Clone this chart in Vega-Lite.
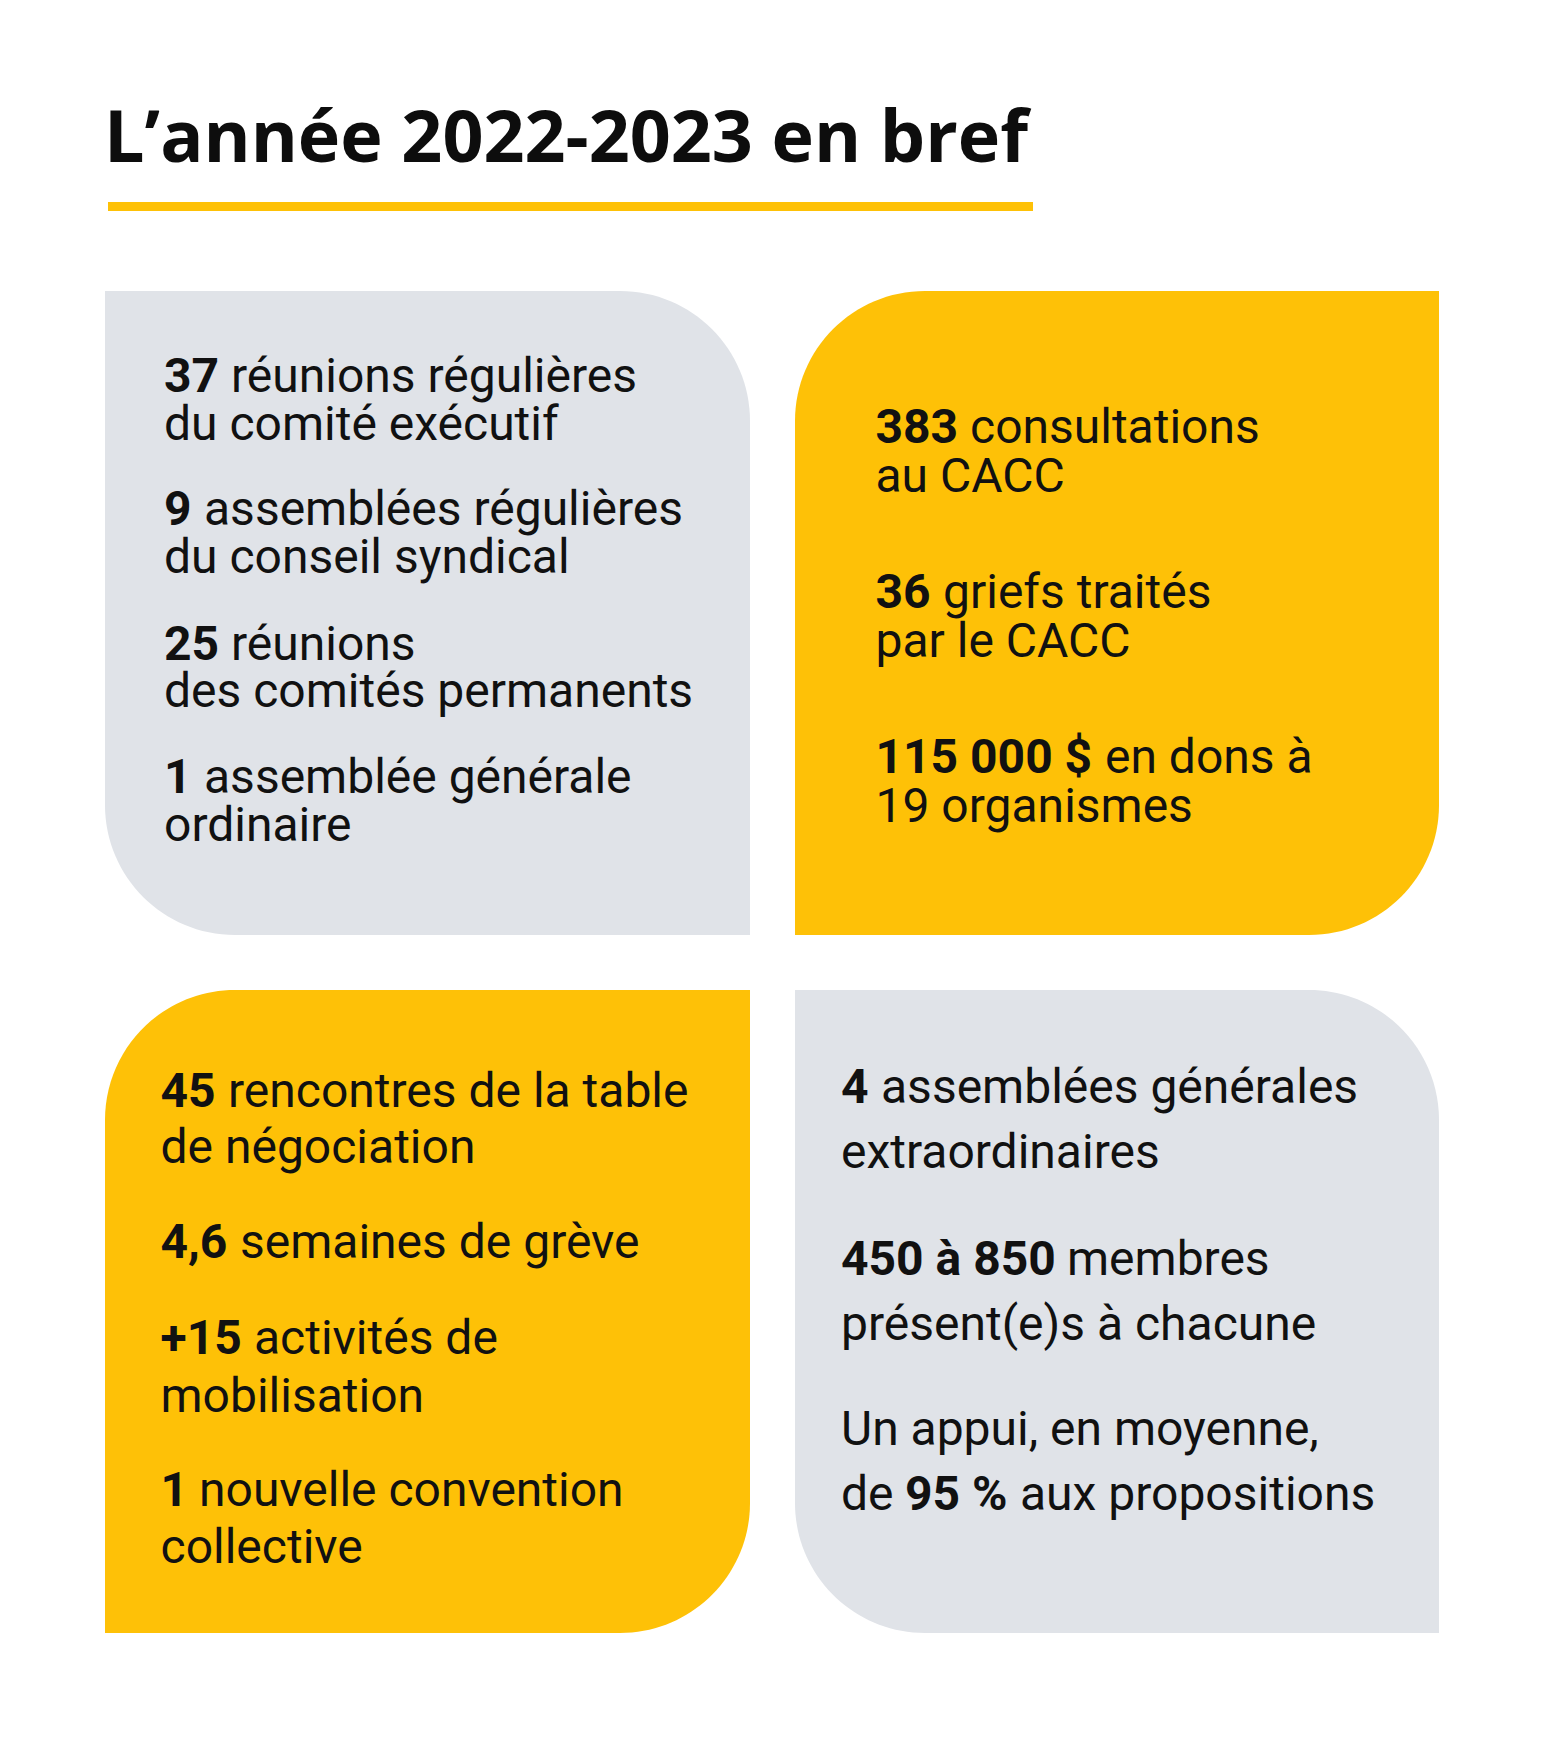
{
  "$schema": "https://vega.github.io/schema/vega-lite/v6.json",
  "width": 1545,
  "height": 1738,
  "padding": 0,
  "autosize": {"type": "none"},
  "background": "#ffffff",
  "config": {"view": {"stroke": null}},
  "datasets": {
    "blocs": [
      {"bloc": "haut-gauche", "teinte": "gris", "forme": "A", "x1": 105, "x2": 750, "y1": 291, "y2": 935},
      {"bloc": "haut-droite", "teinte": "jaune", "forme": "B", "x1": 795, "x2": 1439, "y1": 291, "y2": 935},
      {"bloc": "bas-gauche", "teinte": "jaune", "forme": "B", "x1": 105, "x2": 750, "y1": 990, "y2": 1633},
      {"bloc": "bas-droite", "teinte": "gris", "forme": "A", "x1": 795, "x2": 1439, "y1": 990, "y2": 1633},
      {"bloc": "souligne", "teinte": "jaune", "forme": "barre", "x1": 108, "x2": 1033, "y1": 202, "y2": 211}
    ],
    "titre": [
      {"texte": "L’année 2022-2023 en bref", "x": 104, "y": 162}
    ],
    "lignes": [
      {"graisse": "gras", "texte": "37", "x": 164, "y": 392},
      {"graisse": "normal", "texte": "réunions régulières", "x": 231, "y": 392},
      {"graisse": "normal", "texte": "du comité exécutif", "x": 164, "y": 440},
      {"graisse": "gras", "texte": "9", "x": 164, "y": 525},
      {"graisse": "normal", "texte": "assemblées régulières", "x": 204, "y": 525},
      {"graisse": "normal", "texte": "du conseil syndical", "x": 164, "y": 573},
      {"graisse": "gras", "texte": "25", "x": 164, "y": 660},
      {"graisse": "normal", "texte": "réunions", "x": 231, "y": 660},
      {"graisse": "normal", "texte": "des comités permanents", "x": 164, "y": 707},
      {"graisse": "gras", "texte": "1", "x": 164, "y": 793},
      {"graisse": "normal", "texte": "assemblée générale", "x": 204, "y": 793},
      {"graisse": "normal", "texte": "ordinaire", "x": 164, "y": 841},

      {"graisse": "gras", "texte": "383", "x": 875.5, "y": 443},
      {"graisse": "normal", "texte": "consultations", "x": 970, "y": 443},
      {"graisse": "normal", "texte": "au CACC", "x": 875.5, "y": 492},
      {"graisse": "gras", "texte": "36", "x": 875.5, "y": 608},
      {"graisse": "normal", "texte": "griefs traités", "x": 943, "y": 608},
      {"graisse": "normal", "texte": "par le CACC", "x": 875.5, "y": 657},
      {"graisse": "gras", "texte": "115 000 $", "x": 875.5, "y": 773},
      {"graisse": "normal", "texte": "en dons à", "x": 1105, "y": 773},
      {"graisse": "normal", "texte": "19 organismes", "x": 875.5, "y": 822},

      {"graisse": "gras", "texte": "45", "x": 160.5, "y": 1107},
      {"graisse": "normal", "texte": "rencontres de la table", "x": 228, "y": 1107},
      {"graisse": "normal", "texte": "de négociation", "x": 160.5, "y": 1163},
      {"graisse": "gras", "texte": "4,6", "x": 160.5, "y": 1258},
      {"graisse": "normal", "texte": "semaines de grève", "x": 240, "y": 1258},
      {"graisse": "gras", "texte": "+15", "x": 160.5, "y": 1354},
      {"graisse": "normal", "texte": "activités de", "x": 254, "y": 1354},
      {"graisse": "normal", "texte": "mobilisation", "x": 160.5, "y": 1412},
      {"graisse": "gras", "texte": "1", "x": 160.5, "y": 1506},
      {"graisse": "normal", "texte": "nouvelle convention", "x": 199, "y": 1506},
      {"graisse": "normal", "texte": "collective", "x": 160.5, "y": 1563},

      {"graisse": "gras", "texte": "4", "x": 841, "y": 1103},
      {"graisse": "normal", "texte": "assemblées générales", "x": 881, "y": 1103},
      {"graisse": "normal", "texte": "extraordinaires", "x": 841, "y": 1168},
      {"graisse": "gras", "texte": "450 à 850", "x": 841, "y": 1275},
      {"graisse": "normal", "texte": "membres", "x": 1067, "y": 1275},
      {"graisse": "normal", "texte": "présent(e)s à chacune", "x": 841, "y": 1340},
      {"graisse": "normal", "texte": "Un appui, en moyenne,", "x": 841, "y": 1445},
      {"graisse": "normal", "texte": "de", "x": 841, "y": 1510},
      {"graisse": "gras", "texte": "95 %", "x": 905, "y": 1510},
      {"graisse": "normal", "texte": "aux propositions", "x": 1020, "y": 1510}
    ]
  },
  "layer": [
    {
      "data": {"name": "blocs"},
      "transform": [{"filter": "datum.forme === 'A'"}],
      "mark": {"type": "rect", "cornerRadiusTopRight": 130, "cornerRadiusBottomLeft": 130},
      "encoding": {
        "x": {"field": "x1", "type": "quantitative", "scale": {"domain": [0, 1545], "range": [0, 1545], "nice": false, "zero": false}, "axis": null},
        "x2": {"field": "x2"},
        "y": {"field": "y1", "type": "quantitative", "scale": {"domain": [0, 1738], "range": [0, 1738], "nice": false, "zero": false}, "axis": null},
        "y2": {"field": "y2"},
        "color": {"field": "teinte", "type": "nominal", "scale": {"domain": ["gris", "jaune"], "range": ["#E0E3E8", "#FEC107"]}, "legend": null}
      }
    },
    {
      "data": {"name": "blocs"},
      "transform": [{"filter": "datum.forme === 'B'"}],
      "mark": {"type": "rect", "cornerRadiusTopLeft": 130, "cornerRadiusBottomRight": 130},
      "encoding": {
        "x": {"field": "x1", "type": "quantitative", "axis": null},
        "x2": {"field": "x2"},
        "y": {"field": "y1", "type": "quantitative", "axis": null},
        "y2": {"field": "y2"},
        "color": {"field": "teinte", "type": "nominal", "legend": null}
      }
    },
    {
      "data": {"name": "blocs"},
      "transform": [{"filter": "datum.forme === 'barre'"}],
      "mark": {"type": "rect"},
      "encoding": {
        "x": {"field": "x1", "type": "quantitative", "axis": null},
        "x2": {"field": "x2"},
        "y": {"field": "y1", "type": "quantitative", "axis": null},
        "y2": {"field": "y2"},
        "color": {"field": "teinte", "type": "nominal", "legend": null}
      }
    },
    {
      "data": {"name": "titre"},
      "mark": {"type": "text", "font": "Open Sans", "fontWeight": "bold", "fontSize": 71.8, "align": "left", "baseline": "alphabetic", "color": "#0d0d0d"},
      "encoding": {
        "x": {"field": "x", "type": "quantitative", "axis": null},
        "y": {"field": "y", "type": "quantitative", "axis": null},
        "text": {"field": "texte"}
      }
    },
    {
      "data": {"name": "lignes"},
      "transform": [{"filter": "datum.graisse === 'normal'"}],
      "mark": {"type": "text", "font": "Roboto", "fontWeight": "normal", "fontSize": 48, "align": "left", "baseline": "alphabetic", "color": "#111111"},
      "encoding": {
        "x": {"field": "x", "type": "quantitative", "axis": null},
        "y": {"field": "y", "type": "quantitative", "axis": null},
        "text": {"field": "texte"}
      }
    },
    {
      "data": {"name": "lignes"},
      "transform": [{"filter": "datum.graisse === 'gras'"}],
      "mark": {"type": "text", "font": "Roboto", "fontWeight": "bold", "fontSize": 48, "align": "left", "baseline": "alphabetic", "color": "#111111"},
      "encoding": {
        "x": {"field": "x", "type": "quantitative", "axis": null},
        "y": {"field": "y", "type": "quantitative", "axis": null},
        "text": {"field": "texte"}
      }
    }
  ]
}
